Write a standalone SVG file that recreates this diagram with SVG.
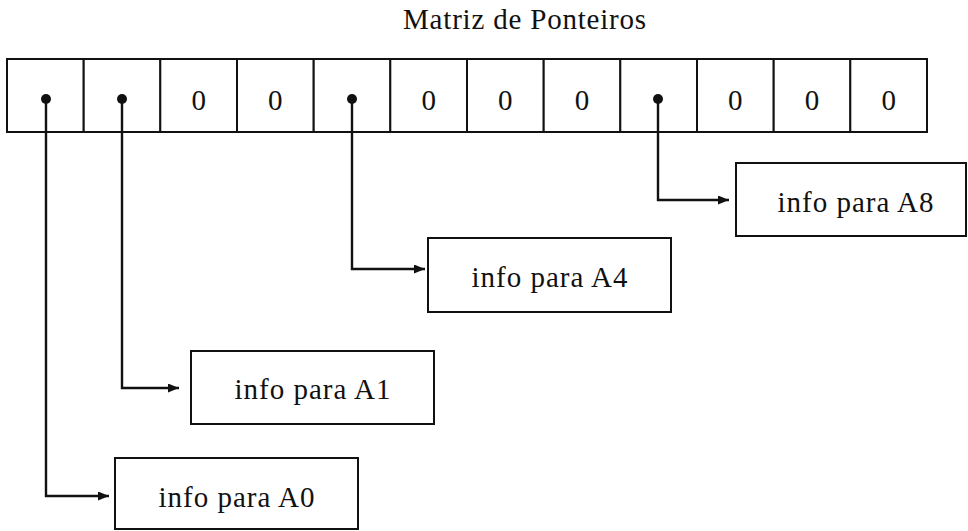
<svg xmlns="http://www.w3.org/2000/svg" width="968" height="531" viewBox="0 0 968 531">
<defs>
<style>
.t{font-family:"Liberation Serif","Times New Roman",serif;font-size:29px;fill:#111;}
.lbl{letter-spacing:1px;}
.box{fill:#fff;stroke:#111;stroke-width:2;}
.cell{fill:#fff;stroke:#111;stroke-width:2;}
.conn{fill:none;stroke:#111;stroke-width:2.4;}
</style>
<marker id="ah" viewBox="0 0 11 9" refX="11" refY="4.5" markerWidth="11" markerHeight="9" markerUnits="userSpaceOnUse" orient="auto">
<path d="M0,0 L11,4.5 L0,9 Z" fill="#111"/>
</marker>
</defs>
<rect width="968" height="531" fill="#fff"/>
<text class="t" x="525" y="29" text-anchor="middle" style="letter-spacing:0.8px">Matriz de Ponteiros</text>
<g id="matriz">
<rect class="cell" x="7" y="59" width="76.7" height="73"/>
<rect class="cell" x="83.7" y="59" width="76.7" height="73"/>
<rect class="cell" x="160.3" y="59" width="76.7" height="73"/>
<rect class="cell" x="237" y="59" width="76.7" height="73"/>
<rect class="cell" x="313.7" y="59" width="76.7" height="73"/>
<rect class="cell" x="390.3" y="59" width="76.7" height="73"/>
<rect class="cell" x="467" y="59" width="76.7" height="73"/>
<rect class="cell" x="543.7" y="59" width="76.7" height="73"/>
<rect class="cell" x="620.3" y="59" width="76.7" height="73"/>
<rect class="cell" x="697" y="59" width="76.7" height="73"/>
<rect class="cell" x="773.7" y="59" width="76.7" height="73"/>
<rect class="cell" x="850.3" y="59" width="76.7" height="73"/>
<g class="t" text-anchor="middle">
<text x="198.7" y="110">0</text>
<text x="275.3" y="110">0</text>
<text x="428.7" y="110">0</text>
<text x="505.3" y="110">0</text>
<text x="582" y="110">0</text>
<text x="735.3" y="110">0</text>
<text x="812" y="110">0</text>
<text x="888.7" y="110">0</text>
</g>
<g fill="#111">
<circle cx="46" cy="99" r="5"/>
<circle cx="122" cy="99" r="5"/>
<circle cx="352" cy="99" r="5"/>
<circle cx="658" cy="99" r="5"/>
</g>
</g>
<g id="connectors">
<path class="conn" d="M46,99 V496 H109" marker-end="url(#ah)"/>
<path class="conn" d="M122,99 V388 H179" marker-end="url(#ah)"/>
<path class="conn" d="M352,99 V269 H425" marker-end="url(#ah)"/>
<path class="conn" d="M658,99 V200 H729" marker-end="url(#ah)"/>
</g>
<g id="infoA8">
<rect class="box" x="736" y="163" width="230" height="73"/>
<text class="t lbl" x="856" y="212" text-anchor="middle">info para A8</text>
</g>
<g id="infoA4">
<rect class="box" x="428" y="238" width="243" height="74"/>
<text class="t lbl" x="550" y="287" text-anchor="middle">info para A4</text>
</g>
<g id="infoA1">
<rect class="box" x="191" y="351" width="243" height="73"/>
<text class="t lbl" x="313" y="399" text-anchor="middle">info para A1</text>
</g>
<g id="infoA0">
<rect class="box" x="115" y="458" width="243" height="71"/>
<text class="t lbl" x="237" y="507" text-anchor="middle">info para A0</text>
</g>
</svg>
